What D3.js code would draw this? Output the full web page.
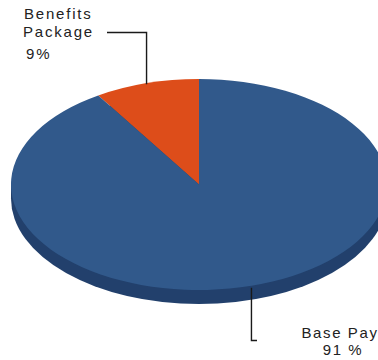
<!DOCTYPE html>
<html><head><meta charset="utf-8">
<script src="https://cdn.jsdelivr.net/npm/d3@7"></script>
<style>html,body{margin:0;padding:0;background:#fff;}svg{display:block;}</style>
</head><body>
<svg id="chart" width="378" height="360"></svg>
<script>
const categories = ["Benefits Package", "Base Pay"];
const values = [9, 91];
const labelLines = [["Benefits", "Package", "9%"], ["Base Pay", "91 %"]];
const colors = ["#DD4D1A", "#31598B"];
const sideColor = "#22406C";

(function () {
const svg = d3.select("#chart");
const cx = 199, cy = 184.5, rx = 188, ry = 105.5, depth = 14;
const k = ry / rx;

const pie = d3.pie().sort(null).startAngle(0).endAngle(-2 * Math.PI);
const arcs = pie(values);
const arc = d3.arc().innerRadius(0).outerRadius(rx);

// side (depth)
const side = svg.append("g");
side.append("ellipse").attr("cx", cx).attr("cy", cy + depth).attr("rx", rx).attr("ry", ry).attr("fill", sideColor);
side.append("rect").attr("x", cx - rx).attr("y", cy).attr("width", 2 * rx).attr("height", depth).attr("fill", sideColor);

// top face
const face = svg.append("g").attr("transform", `translate(${cx},${cy}) scale(1,${k})`);
face.selectAll("path").data(arcs).join("path")
  .attr("d", arc).attr("fill", (d, i) => colors[i]);

// leader lines from the slice mid-angle
function edgePoint(a) { return [cx + rx * Math.sin(a), cy - ry * Math.cos(a)]; }
const mids = arcs.map(d => (d.startAngle + d.endAngle) / 2);
const p0 = edgePoint(mids[0]);
const p1 = edgePoint(mids[1]);
const line = d3.line();
svg.append("path").attr("d", line([[p0[0], p0[1] + 1], [p0[0], 32.5], [107, 32.5]]))
  .attr("fill", "none").attr("stroke", "#1a1a1a").attr("stroke-width", 1.4);
svg.append("path").attr("d", line([[p1[0], p1[1] + 2], [p1[0], 340.5], [257, 340.5]]))
  .attr("fill", "none").attr("stroke", "#1a1a1a").attr("stroke-width", 1.4);

const font = "'Liberation Sans', Arial, sans-serif";
const t0 = svg.append("g").attr("font-family", font).attr("font-size", 15).attr("fill", "#222").attr("letter-spacing", 1.8);
const pos0 = [[24, 19], [23, 37], [26, 59]];
labelLines[0].forEach((s, i) => t0.append("text").attr("x", pos0[i][0]).attr("y", pos0[i][1]).text(s));
const t1 = svg.append("g").attr("font-family", font).attr("font-size", 15).attr("fill", "#222").attr("letter-spacing", 1.6).attr("text-anchor", "middle");
const pos1 = [[340, 338], [343, 355]];
labelLines[1].forEach((s, i) => t1.append("text").attr("x", pos1[i][0]).attr("y", pos1[i][1]).text(s));
})();
</script>
</body></html>
